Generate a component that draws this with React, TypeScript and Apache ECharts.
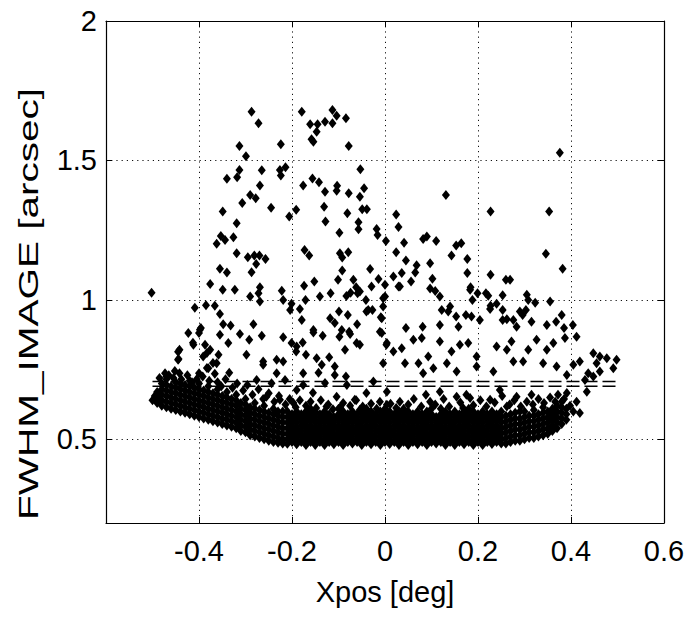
import React, { useEffect, useRef } from "react";
import * as echarts from "echarts";

// ---- Data ----
const yTickValues = [0.5, 1, 1.5, 2];

// sparse high-FWHM stars
const outlierPoints: number[][] = [
  [-0.502, 1.026], [-0.287, 1.675], [-0.272, 1.633], [-0.313, 1.552], [-0.299, 1.515], [-0.224, 1.558],
  [-0.179, 1.675], [-0.161, 1.63], [-0.145, 1.63], [-0.147, 1.603], [-0.158, 1.576], [-0.154, 1.567],
  [-0.129, 1.639], [-0.113, 1.681], [-0.113, 1.633], [-0.104, 1.66], [-0.084, 1.651], [-0.078, 1.552],
  [-0.313, 1.466], [-0.318, 1.44], [-0.34, 1.434], [-0.265, 1.465], [-0.269, 1.41], [-0.226, 1.466],
  [-0.224, 1.446], [-0.214, 1.476], [-0.29, 1.376], [-0.278, 1.364], [-0.307, 1.347], [-0.349, 1.317],
  [-0.245, 1.33], [-0.206, 1.299], [-0.191, 1.323], [-0.176, 1.41], [-0.156, 1.435], [-0.142, 1.422],
  [-0.129, 1.388], [-0.103, 1.409], [-0.104, 1.391], [-0.078, 1.382], [-0.053, 1.468], [-0.045, 1.4],
  [-0.054, 1.37], [-0.131, 1.334], [-0.128, 1.281], [-0.081, 1.311], [-0.049, 1.325], [-0.039, 1.325],
  [-0.057, 1.278], [-0.057, 1.253], [-0.098, 1.241], [0.024, 1.306], [0.029, 1.261], [-0.018, 1.254],
  [-0.016, 1.233], [0.002, 1.211], [0.024, 1.171], [0.018, 1.084], [0.029, 1.048], [-0.319, 1.275],
  [-0.353, 1.229], [-0.344, 1.215], [-0.362, 1.201], [-0.326, 1.225], [-0.319, 1.167], [-0.295, 1.153],
  [-0.281, 1.159], [-0.27, 1.159], [-0.257, 1.147], [-0.277, 1.129], [-0.287, 1.099], [-0.355, 1.112],
  [-0.34, 1.098], [-0.376, 1.057], [-0.349, 1.036], [-0.323, 1.036], [-0.269, 1.045], [-0.272, 1.024],
  [-0.29, 1.012], [-0.269, 0.994], [-0.222, 1.033], [-0.219, 1.0], [-0.174, 1.051], [-0.173, 1.179],
  [-0.163, 1.159], [-0.152, 1.066], [-0.171, 1.0], [-0.14, 1.012], [-0.117, 1.024], [-0.101, 1.072],
  [-0.097, 1.167], [-0.092, 1.152], [-0.079, 1.171], [-0.092, 1.105], [-0.068, 1.072], [-0.062, 1.045],
  [-0.059, 1.024], [-0.083, 1.014], [-0.032, 1.111], [-0.014, 1.075], [-0.029, 1.048], [-0.041, 1.0],
  [-0.036, 0.964], [-0.004, 1.006], [-0.004, 0.976], [-0.009, 0.938], [-0.201, 0.986], [-0.204, 0.964],
  [-0.183, 0.967], [-0.179, 0.928], [-0.118, 0.934], [-0.108, 0.917], [-0.099, 0.958], [-0.08, 0.946],
  [-0.06, 0.913], [-0.027, 0.964], [-0.409, 0.972], [-0.385, 0.981], [-0.366, 0.979], [-0.355, 0.949],
  [-0.348, 0.913], [-0.332, 0.908], [-0.283, 0.913], [-0.396, 0.899], [-0.074, 1.026], [-0.054, 1.03],
  [0.0, 1.054], [0.0, 1.012], [-0.04, 0.958], [-0.093, 0.892], [-0.077, 0.886], [-0.011, 0.886],
  [-0.154, 0.892],
  [0.376, 1.528], [0.131, 1.376], [0.227, 1.317], [0.353, 1.317], [0.346, 1.165], [0.382, 1.112],
  [0.041, 1.205], [0.045, 1.141], [0.082, 1.218], [0.09, 1.227], [0.11, 1.211], [0.097, 1.131],
  [0.068, 1.124], [0.065, 1.098], [0.036, 1.096], [0.056, 1.066], [0.032, 1.048], [0.102, 1.076],
  [0.097, 1.041], [0.108, 1.032], [0.118, 1.012], [0.143, 1.159], [0.153, 1.195], [0.164, 1.203],
  [0.177, 1.147], [0.177, 1.096], [0.184, 1.045], [0.183, 1.036], [0.199, 1.024], [0.188, 1.0],
  [0.217, 1.024], [0.222, 1.015], [0.227, 1.09], [0.26, 1.072], [0.269, 1.072], [0.253, 1.017],
  [0.227, 0.979], [0.24, 0.986], [0.226, 0.967], [0.253, 0.964], [0.305, 1.018], [0.308, 1.0],
  [0.323, 0.99], [0.355, 0.994], [0.303, 0.964], [0.29, 0.958], [0.296, 0.946], [0.38, 0.946],
  [0.122, 0.964], [0.14, 0.976], [0.136, 0.958], [0.153, 0.94], [0.174, 0.946], [0.186, 0.94],
  [0.204, 0.928], [-0.007, 0.934], [0.118, 0.91], [0.158, 0.904], [0.253, 0.928], [0.262, 0.931],
  [0.276, 0.928], [0.283, 0.904], [0.315, 0.922], [0.348, 0.91], [0.368, 0.922], [0.385, 0.899],
  [0.404, 0.91], [0.081, 0.904], [0.045, 0.899],
];

// stars between ~0.72 and ~0.9 arcsec
const midPoints: number[][] = [
  [-0.445, 0.814], [-0.445, 0.785], [-0.413, 0.846], [-0.398, 0.893], [-0.383, 0.81], [-0.383, 0.756],
  [-0.37, 0.774], [-0.423, 0.881], [-0.4, 0.881], [-0.412, 0.839], [-0.387, 0.839], [-0.355, 0.875],
  [-0.337, 0.845], [-0.312, 0.878], [-0.292, 0.857], [-0.265, 0.871], [-0.298, 0.803], [-0.358, 0.803],
  [-0.376, 0.821], [-0.442, 0.821], [-0.444, 0.788], [-0.391, 0.797], [-0.362, 0.773], [-0.335, 0.739],
  [-0.38, 0.755], [-0.4, 0.737], [-0.442, 0.737], [-0.473, 0.737], [-0.262, 0.779], [-0.233, 0.785],
  [-0.219, 0.779], [-0.219, 0.866], [-0.201, 0.845], [-0.19, 0.833], [-0.177, 0.847], [-0.17, 0.803],
  [-0.191, 0.815], [-0.154, 0.883], [-0.134, 0.871], [-0.147, 0.791], [-0.136, 0.767], [-0.108, 0.761],
  [-0.12, 0.794], [-0.098, 0.868], [-0.075, 0.878], [-0.061, 0.845], [-0.054, 0.839], [-0.086, 0.821],
  [-0.108, 0.731], [-0.084, 0.725], [-0.007, 0.881], [0.003, 0.839], [-0.143, 0.739], [-0.176, 0.737],
  [-0.233, 0.737], [-0.262, 0.767],
  [0.004, 0.845], [0.018, 0.815], [0.036, 0.827], [0.061, 0.857], [0.079, 0.863], [0.043, 0.773],
  [-0.004, 0.773], [0.072, 0.773], [0.093, 0.797], [0.118, 0.851], [0.143, 0.815], [0.161, 0.839],
  [0.179, 0.845], [0.104, 0.755], [0.133, 0.773], [0.154, 0.743], [0.082, 0.737], [0.197, 0.797],
  [0.197, 0.761], [0.233, 0.743], [0.24, 0.833], [0.262, 0.821], [0.272, 0.851], [0.276, 0.779],
  [0.297, 0.779], [0.308, 0.821], [0.326, 0.857], [0.348, 0.821], [0.362, 0.845], [0.34, 0.773],
  [0.369, 0.761], [0.387, 0.863], [0.412, 0.868], [0.419, 0.779], [0.405, 0.767], [0.391, 0.731],
  [0.448, 0.809], [0.462, 0.797], [0.491, 0.755], [0.498, 0.785], [0.477, 0.791], [0.455, 0.773],
  [0.437, 0.737], [0.462, 0.743], [0.448, 0.725],
];

// stars just above the dense core (~0.6 to ~0.75)
const edgePoints: number[][] = [
  [0.43, 0.713], [0.434, 0.671], [0.419, 0.594], [0.412, 0.635], [0.391, 0.666], [0.38, 0.635],
  [0.262, 0.618], [0.226, 0.642], [0.183, 0.648], [0.154, 0.653], [0.118, 0.671], [0.032, 0.635],
  [0.004, 0.624], [0.097, 0.635], [0.168, 0.612], [0.247, 0.677], [0.283, 0.653], [0.315, 0.66],
  [-0.276, 0.713], [-0.244, 0.701], [-0.215, 0.713], [-0.19, 0.677], [-0.176, 0.695], [-0.155, 0.667],
  [-0.129, 0.702], [-0.104, 0.653], [-0.082, 0.695], [-0.065, 0.642], [-0.04, 0.666], [-0.025, 0.707],
  [-0.011, 0.635], [0.004, 0.671], [-0.255, 0.653], [-0.226, 0.642], [-0.197, 0.63], [-0.126, 0.618],
  [-0.097, 0.613], [-0.054, 0.606], [-0.47, 0.725], [-0.455, 0.72], [-0.405, 0.715], [-0.36, 0.705],
  [-0.5, 0.64], [-0.495, 0.655], [-0.485, 0.72], [-0.465, 0.73], [-0.452, 0.745], [-0.438, 0.715],
  [-0.425, 0.73], [-0.415, 0.705], [-0.392, 0.725], [-0.378, 0.71], [-0.366, 0.735], [-0.352, 0.69],
  [-0.343, 0.715], [-0.328, 0.685], [-0.318, 0.7], [-0.305, 0.675], [-0.296, 0.695], [-0.285, 0.66],
  [-0.272, 0.68], [-0.262, 0.645], [-0.25, 0.665], [-0.238, 0.635], [-0.228, 0.655], [-0.214, 0.625],
  [-0.205, 0.645], [-0.192, 0.615], [-0.183, 0.64], [-0.17, 0.62], [-0.16, 0.635], [-0.148, 0.612],
  [-0.138, 0.64], [-0.122, 0.625], [-0.112, 0.608], [-0.09, 0.63], [-0.075, 0.62], [-0.062, 0.64],
  [-0.048, 0.618], [-0.03, 0.628], [-0.018, 0.61], [0.012, 0.628], [0.024, 0.612], [0.05, 0.625],
  [0.062, 0.645], [0.078, 0.618], [0.088, 0.66], [0.108, 0.625], [0.126, 0.645], [0.138, 0.618],
  [0.162, 0.632], [0.175, 0.66], [0.19, 0.622], [0.205, 0.64], [0.218, 0.618], [0.236, 0.632],
  [0.252, 0.655], [0.268, 0.625], [0.278, 0.64], [0.292, 0.618], [0.305, 0.635], [0.318, 0.625],
  [0.33, 0.645], [0.342, 0.63], [0.355, 0.65], [0.366, 0.635], [0.372, 0.66], [0.385, 0.645],
  [0.398, 0.62], [0.405, 0.6],
];

// dense core: each column = [x, FWHM values read at that x]
const coreColumns: [number, number[]][] = [
  [-0.49, [0.63, 0.65, 0.67]],
  [-0.48, [0.62, 0.64, 0.66, 0.68, 0.70]],
  [-0.47, [0.615, 0.635, 0.655, 0.675, 0.695, 0.715]],
  [-0.46, [0.61, 0.63, 0.65, 0.67, 0.69]],
  [-0.45, [0.605, 0.625, 0.645, 0.665, 0.685, 0.705]],
  [-0.44, [0.60, 0.62, 0.64, 0.66, 0.68, 0.70]],
  [-0.43, [0.595, 0.615, 0.635, 0.655, 0.675, 0.695]],
  [-0.42, [0.59, 0.61, 0.63, 0.65, 0.67, 0.69, 0.71]],
  [-0.41, [0.585, 0.605, 0.625, 0.645, 0.665, 0.685]],
  [-0.40, [0.58, 0.60, 0.62, 0.64, 0.66, 0.68, 0.70]],
  [-0.39, [0.575, 0.595, 0.615, 0.635, 0.655, 0.675]],
  [-0.38, [0.57, 0.59, 0.61, 0.63, 0.65, 0.67, 0.69]],
  [-0.37, [0.565, 0.585, 0.605, 0.625, 0.645, 0.665]],
  [-0.36, [0.56, 0.58, 0.60, 0.62, 0.64, 0.66, 0.68]],
  [-0.35, [0.555, 0.575, 0.595, 0.615, 0.635, 0.655]],
  [-0.34, [0.55, 0.57, 0.59, 0.61, 0.63, 0.65, 0.67]],
  [-0.33, [0.545, 0.565, 0.585, 0.605, 0.625, 0.645]],
  [-0.32, [0.54, 0.56, 0.58, 0.60, 0.62, 0.64, 0.66]],
  [-0.31, [0.53, 0.55, 0.57, 0.59, 0.61, 0.63]],
  [-0.30, [0.525, 0.545, 0.565, 0.585, 0.605, 0.625, 0.645]],
  [-0.29, [0.515, 0.535, 0.555, 0.575, 0.595, 0.615]],
  [-0.28, [0.51, 0.53, 0.55, 0.57, 0.59, 0.61, 0.63]],
  [-0.27, [0.505, 0.525, 0.545, 0.565, 0.585, 0.605]],
  [-0.26, [0.50, 0.52, 0.54, 0.56, 0.58, 0.60, 0.62]],
  [-0.25, [0.495, 0.515, 0.535, 0.555, 0.575, 0.595]],
  [-0.24, [0.49, 0.51, 0.53, 0.55, 0.57, 0.59, 0.61]],
  [-0.23, [0.488, 0.505, 0.525, 0.545, 0.565, 0.585, 0.60]],
  [-0.22, [0.485, 0.50, 0.52, 0.54, 0.56, 0.58, 0.60]],
  [-0.21, [0.484, 0.50, 0.52, 0.54, 0.56, 0.58, 0.60]],
  [-0.20, [0.49, 0.51, 0.53, 0.55, 0.57, 0.59]],
  [-0.19, [0.482, 0.50, 0.52, 0.54, 0.56, 0.58, 0.60]],
  [-0.18, [0.49, 0.51, 0.53, 0.55, 0.57, 0.59]],
  [-0.17, [0.48, 0.50, 0.52, 0.54, 0.56, 0.58, 0.60]],
  [-0.16, [0.49, 0.51, 0.53, 0.55, 0.57, 0.59, 0.61]],
  [-0.15, [0.48, 0.50, 0.52, 0.54, 0.56, 0.58, 0.60]],
  [-0.14, [0.49, 0.51, 0.53, 0.55, 0.57, 0.59]],
  [-0.13, [0.48, 0.50, 0.52, 0.54, 0.56, 0.58, 0.60]],
  [-0.12, [0.49, 0.51, 0.53, 0.55, 0.57, 0.59]],
  [-0.11, [0.482, 0.50, 0.52, 0.54, 0.56, 0.58]],
  [-0.10, [0.49, 0.51, 0.53, 0.55, 0.57, 0.59, 0.61]],
  [-0.09, [0.48, 0.50, 0.52, 0.54, 0.56, 0.58, 0.60]],
  [-0.08, [0.49, 0.51, 0.53, 0.55, 0.57, 0.59]],
  [-0.07, [0.485, 0.50, 0.52, 0.54, 0.56, 0.58, 0.60]],
  [-0.06, [0.49, 0.51, 0.53, 0.55, 0.57, 0.59]],
  [-0.05, [0.48, 0.50, 0.52, 0.54, 0.56, 0.58, 0.60]],
  [-0.04, [0.49, 0.51, 0.53, 0.55, 0.57, 0.59, 0.61]],
  [-0.03, [0.482, 0.50, 0.52, 0.54, 0.56, 0.58, 0.60]],
  [-0.02, [0.49, 0.51, 0.53, 0.55, 0.57, 0.59]],
  [-0.01, [0.48, 0.50, 0.52, 0.54, 0.56, 0.58, 0.60]],
  [0.00, [0.49, 0.51, 0.53, 0.55, 0.57, 0.59, 0.61]],
  [0.01, [0.483, 0.50, 0.52, 0.54, 0.56, 0.58, 0.60]],
  [0.02, [0.49, 0.51, 0.53, 0.55, 0.57, 0.59]],
  [0.03, [0.48, 0.50, 0.52, 0.54, 0.56, 0.58, 0.60]],
  [0.04, [0.49, 0.51, 0.53, 0.55, 0.57, 0.59, 0.61]],
  [0.05, [0.48, 0.50, 0.52, 0.54, 0.56, 0.58, 0.60]],
  [0.06, [0.49, 0.51, 0.53, 0.55, 0.57, 0.59]],
  [0.07, [0.482, 0.50, 0.52, 0.54, 0.56, 0.58, 0.60]],
  [0.08, [0.49, 0.51, 0.53, 0.55, 0.57, 0.59]],
  [0.09, [0.48, 0.50, 0.52, 0.54, 0.56, 0.58, 0.60]],
  [0.10, [0.49, 0.51, 0.53, 0.55, 0.57, 0.59, 0.61]],
  [0.11, [0.485, 0.50, 0.52, 0.54, 0.56, 0.58]],
  [0.12, [0.49, 0.51, 0.53, 0.55, 0.57, 0.59, 0.61]],
  [0.13, [0.48, 0.50, 0.52, 0.54, 0.56, 0.58, 0.60]],
  [0.14, [0.49, 0.51, 0.53, 0.55, 0.57, 0.59]],
  [0.15, [0.48, 0.50, 0.52, 0.54, 0.56, 0.58, 0.60]],
  [0.16, [0.49, 0.51, 0.53, 0.55, 0.57, 0.59]],
  [0.17, [0.482, 0.50, 0.52, 0.54, 0.56, 0.58, 0.60]],
  [0.18, [0.49, 0.51, 0.53, 0.55, 0.57, 0.59, 0.61]],
  [0.19, [0.48, 0.50, 0.52, 0.54, 0.56, 0.58, 0.60]],
  [0.20, [0.49, 0.51, 0.53, 0.55, 0.57, 0.59]],
  [0.21, [0.48, 0.50, 0.52, 0.54, 0.56, 0.58, 0.60]],
  [0.22, [0.49, 0.51, 0.53, 0.55, 0.57, 0.59]],
  [0.23, [0.483, 0.50, 0.52, 0.54, 0.56, 0.58, 0.60]],
  [0.24, [0.49, 0.51, 0.53, 0.55, 0.57, 0.59]],
  [0.25, [0.485, 0.50, 0.52, 0.54, 0.56, 0.58, 0.60]],
  [0.26, [0.485, 0.505, 0.525, 0.545, 0.565, 0.585]],
  [0.27, [0.49, 0.51, 0.53, 0.55, 0.57, 0.59]],
  [0.28, [0.495, 0.515, 0.535, 0.555, 0.575, 0.595]],
  [0.29, [0.495, 0.515, 0.535, 0.555, 0.575, 0.60]],
  [0.30, [0.50, 0.52, 0.54, 0.56, 0.58, 0.60]],
  [0.31, [0.505, 0.525, 0.545, 0.565, 0.585]],
  [0.32, [0.505, 0.525, 0.545, 0.565, 0.585, 0.605]],
  [0.33, [0.51, 0.53, 0.55, 0.57, 0.59]],
  [0.34, [0.515, 0.535, 0.555, 0.575, 0.595, 0.615]],
  [0.35, [0.52, 0.54, 0.56, 0.58, 0.60]],
  [0.36, [0.53, 0.55, 0.57, 0.59, 0.61]],
  [0.37, [0.54, 0.56, 0.58, 0.60, 0.62]],
  [0.38, [0.555, 0.575, 0.595, 0.615]],
  [0.39, [0.57, 0.59, 0.61]],
];

// the two dashed reference levels
const dashedLevels = [0.707, 0.69];
const dashedRange = [-0.5, 0.5];

const FONT = "'Liberation Sans', Arial, Helvetica, sans-serif";

export default function App() {
  const ref = useRef<HTMLDivElement>(null);

  useEffect(() => {
    if (!ref.current) return;
    const chart = echarts.init(ref.current, undefined, { renderer: "svg" });

    const corePoints: number[][] = [];
    coreColumns.forEach(([x, ys]) => ys.forEach((y) => corePoints.push([x, y])));
    const allPoints = [...corePoints, ...edgePoints, ...midPoints, ...outlierPoints];

    const tickCommon = { show: true, inside: true, length: 6, lineStyle: { color: "#000", width: 1 } };
    const lineCommon = { show: true, onZero: false, lineStyle: { color: "#000", width: 1.2 } };
    const gridDots = { show: true, lineStyle: { color: "#111", width: 1, type: [1.2, 4] as any } };

    chart.setOption({
      animation: false,
      backgroundColor: "#fff",
      grid: { left: 106, right: 24, top: 21, bottom: 94, containLabel: false },
      xAxis: [
        {
          type: "value",
          min: -0.6,
          max: 0.6,
          interval: 0.2,
          position: "bottom",
          axisLine: lineCommon,
          axisTick: tickCommon,
          splitLine: gridDots,
          axisLabel: {
            color: "#000",
            fontFamily: FONT,
            fontSize: 29,
            margin: 13,
            formatter: (v: number) => (v < -0.59 ? "" : String(Math.round(v * 10) / 10)),
          },
          name: "Xpos [deg]",
          nameLocation: "middle",
          nameGap: 54,
          nameTextStyle: { color: "#000", fontFamily: FONT, fontSize: 29 },
        },
        {
          type: "value",
          min: -0.6,
          max: 0.6,
          interval: 0.2,
          position: "top",
          axisLine: lineCommon,
          axisTick: tickCommon,
          axisLabel: { show: false },
          splitLine: { show: false },
        },
      ],
      yAxis: [
        {
          type: "value",
          min: 0.2,
          max: 2,
          position: "left",
          axisLine: lineCommon,
          axisTick: { ...tickCommon, customValues: yTickValues },
          splitLine: gridDots,
          axisLabel: {
            customValues: yTickValues,
            color: "#000",
            fontFamily: FONT,
            fontSize: 29,
            margin: 9,
            formatter: (v: number) => String(Math.round(v * 10) / 10),
          },
        },
        {
          type: "value",
          min: 0.2,
          max: 2,
          position: "right",
          axisLine: lineCommon,
          axisTick: { ...tickCommon, customValues: yTickValues },
          axisLabel: { show: false },
          splitLine: { show: false },
        },
      ],
      graphic: [
        {
          type: "text",
          x: 29,
          y: 304,
          rotation: Math.PI / 2,
          scaleX: 1.5,
          style: {
            text: "FWHM_IMAGE [arcsec]",
            fill: "#000",
            fontFamily: FONT,
            fontSize: 27,
            align: "center",
            verticalAlign: "middle",
            textAlign: "center",
            textVerticalAlign: "middle",
          } as any,
        },
      ],
      series: [
        {
          type: "scatter",
          xAxisIndex: 0,
          yAxisIndex: 0,
          data: allPoints,
          symbol: "diamond",
          symbolSize: [8, 10],
          itemStyle: { color: "#000", opacity: 1 },
          silent: true,
          z: 2,
        },
        ...dashedLevels.map((lvl) => ({
          type: "line",
          xAxisIndex: 0,
          yAxisIndex: 0,
          data: [
            [dashedRange[0], lvl],
            [dashedRange[1], lvl],
          ],
          symbol: "none",
          silent: true,
          lineStyle: { color: "#000", width: 1.5, type: [13, 5] },
          z: 5,
        })),
      ],
    });

    return () => chart.dispose();
  }, []);

  return (
    <div
      ref={ref}
      style={{ position: "fixed", left: 0, top: 0, width: 688, height: 617, background: "#fff" }}
    />
  );
}
